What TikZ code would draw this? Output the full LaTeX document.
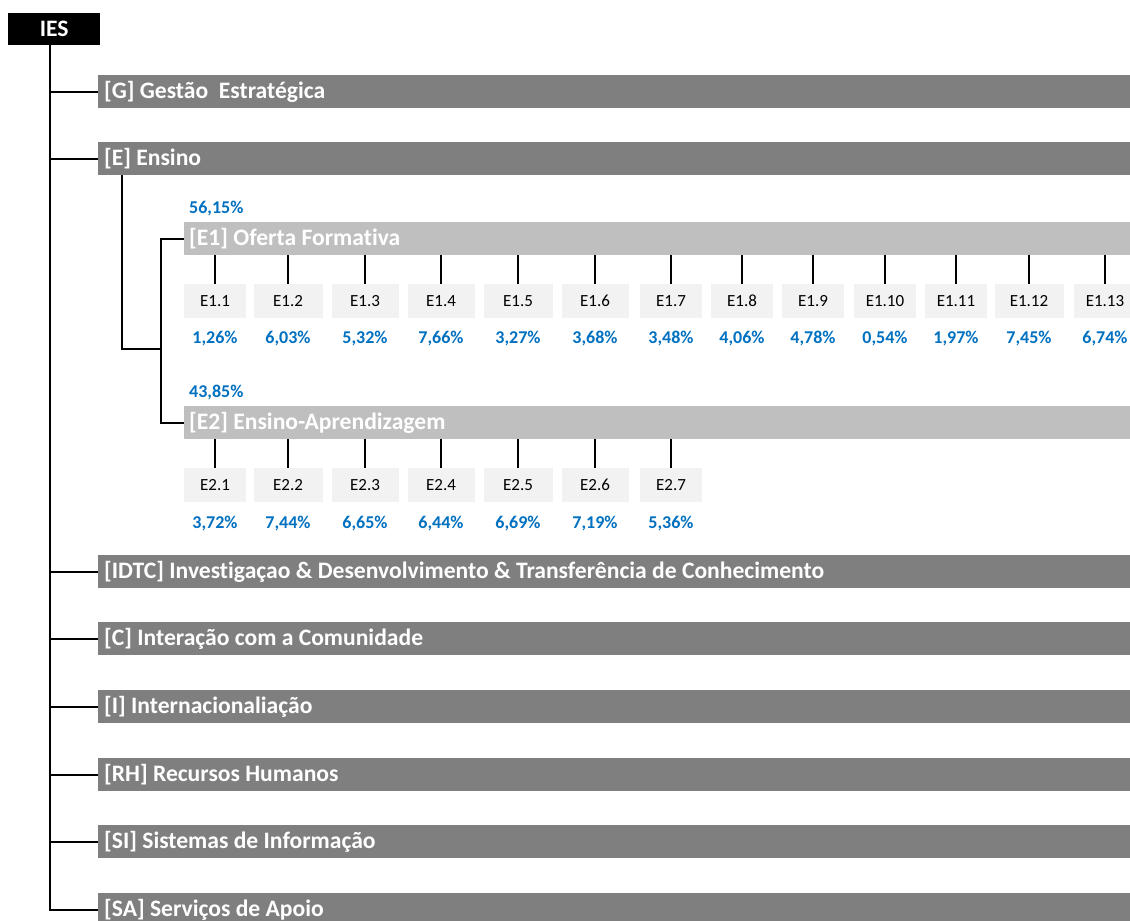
\documentclass[tikz,border=0pt]{standalone}
\usepackage{fontspec}
\setmainfont{Carlito}[Ligatures=NoCommon]
\definecolor{bardark}{HTML}{7F7F7F}
\definecolor{barlight}{HTML}{BFBFBF}
\definecolor{boxgray}{HTML}{F2F2F2}
\definecolor{pctblue}{HTML}{0070C0}
\begin{document}
\begin{tikzpicture}[x=1pt,y=-1pt,
  topbox/.style={fill=black,text=white,font=\fontsize{23.6}{28}\selectfont\bfseries,
    minimum width=92pt,minimum height=32pt,inner sep=0pt,anchor=north west},
  mainbar/.style={fill=bardark,text=white,font=\fontsize{23.6}{28}\selectfont\bfseries,
    anchor=north west,minimum height=33pt,text width=1020pt,align=flush left,
    inner xsep=6pt,inner ysep=0pt},
  subbar/.style={mainbar,fill=barlight,text width=936pt,inner xsep=5pt},
  itembox/.style={fill=boxgray,minimum height=34pt,inner sep=0pt,
    font=\fontsize{17}{20}\selectfont},
  pct/.style={text=pctblue,font=\fontsize{18}{21}\selectfont\bfseries,inner sep=0pt,
    anchor=base},
  link/.style={line width=2pt,black}]
\clip (0,0) rectangle (1130,921);
\fill[white] (0,0) rectangle (1130,921);

% root
\node[topbox] (IES) at (8,13) {IES};
\coordinate (trunk) at (50,45);

% first-level areas
\node[mainbar] (G)    at (98,75)  {[G] Gestão\ \ Estratégica};
\node[mainbar] (E)    at (98,142) {[E] Ensino};
\node[mainbar] (IDTC) at (98,555) {[IDTC] Investigaçao \& Desenvolvimento \& Transferência de Conhecimento};
\node[mainbar] (C)    at (98,622) {[C] Interação com a Comunidade};
\node[mainbar] (I)    at (98,690) {[I] Internacionaliação};
\node[mainbar] (RH)   at (98,758) {[RH] Recursos Humanos};
\node[mainbar] (SI)   at (98,825) {[SI] Sistemas de Informação};
\node[mainbar] (SA)   at (98,893) {[SA] Serviços de Apoio};

\draw[link] (trunk) |- (SA.west);
\foreach \n in {G,E,IDTC,C,I,RH,SI}
  \draw[link] (trunk |- \n.west) -- (\n.west);

% teaching sub-areas
\node[subbar] (E1) at (184,222) {[E1] Oferta Formativa};
\node[subbar] (E2) at (184,406) {[E2] Ensino-Aprendizagem};
\node[pct,anchor=base west] (pE1) at (189,213) {56,15\%};
\node[pct,anchor=base west] (pE2) at (189,397) {43,85\%};

\coordinate (Estem) at ([xshift=24pt]E.south west);
\coordinate (Ejoin) at (161,349);
\draw[link] (Estem) |- (Ejoin);
\draw[link] (E1.west) -- (E1.west -| Ejoin) -- (E2.west -| Ejoin) -- (E2.west);

% E1 indicators
\foreach \i/\x/\w/\p in {1/215/62/{1,26\%},2/288/69/{6,03\%},3/365/67/{5,32\%},
    4/441/67/{7,66\%},5/518/69/{3,27\%},6/595/67/{3,68\%},7/671/62/{3,48\%},
    8/742/62/{4,06\%},9/813/62/{4,78\%},10/885/62/{0,54\%},11/956/62/{1,97\%},
    12/1029/69/{7,45\%},13/1105/62/{6,74\%}}{
  \node[itembox,minimum width=\w pt] (a\i) at (\x,301) {E1.\i};
  \draw[link] (a\i.north) -- (a\i.north |- E1.south);
  \node[pct] (ap\i) at (\x,343) {\p};
}

% E2 indicators
\foreach \i/\x/\w/\p in {1/215/62/{3,72\%},2/288/69/{7,44\%},3/365/67/{6,65\%},
    4/441/67/{6,44\%},5/518/69/{6,69\%},6/595/67/{7,19\%},7/671/62/{5,36\%}}{
  \node[itembox,minimum width=\w pt] (b\i) at (\x,485) {E2.\i};
  \draw[link] (b\i.north) -- (b\i.north |- E2.south);
  \node[pct] (bp\i) at (\x,528) {\p};
}
\end{tikzpicture}
\end{document}
